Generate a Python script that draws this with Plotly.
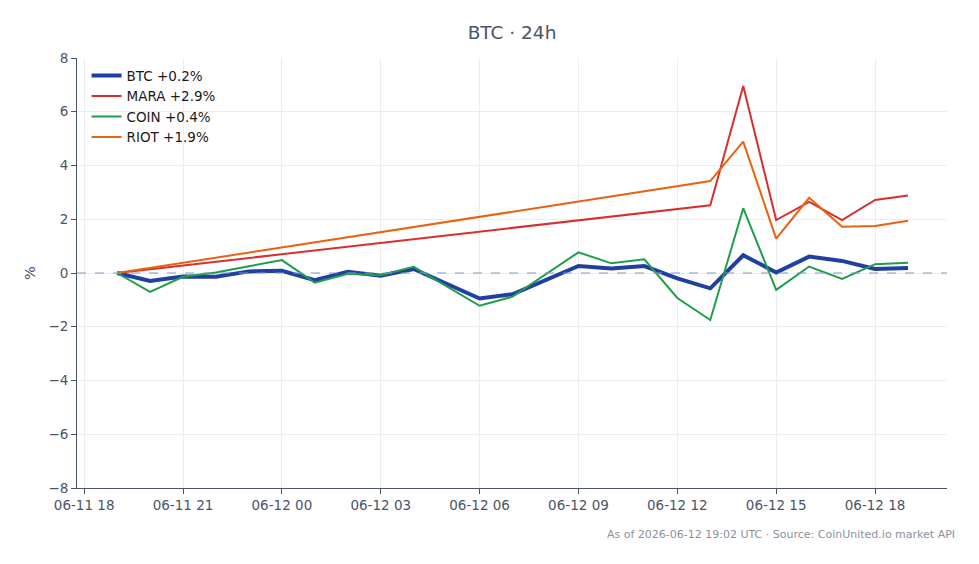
import plotly.graph_objects as go

# Times (UTC)
t_crypto = ["2026-06-11 19:00", "2026-06-11 20:00", "2026-06-11 21:00", "2026-06-11 22:00",
            "2026-06-11 23:00", "2026-06-12 00:00", "2026-06-12 01:00", "2026-06-12 02:00",
            "2026-06-12 03:00", "2026-06-12 04:00", "2026-06-12 06:00", "2026-06-12 07:00",
            "2026-06-12 09:00", "2026-06-12 10:00", "2026-06-12 11:00", "2026-06-12 12:00",
            "2026-06-12 13:00", "2026-06-12 14:00", "2026-06-12 15:00", "2026-06-12 16:00",
            "2026-06-12 17:00", "2026-06-12 18:00", "2026-06-12 19:00"]
btc = [0.0, -0.30, -0.13, -0.14, 0.06, 0.08, -0.27, 0.05, -0.10, 0.15, -0.95, -0.79,
       0.26, 0.17, 0.26, -0.20, -0.57, 0.66, 0.02, 0.61, 0.45, 0.15, 0.19]
coin = [0.0, -0.70, -0.14, 0.02, 0.25, 0.48, -0.36, -0.03, -0.08, 0.23, -1.22, -0.88,
        0.77, 0.36, 0.51, -0.93, -1.75, 2.41, -0.63, 0.24, -0.22, 0.33, 0.38]

t_stock = ["2026-06-11 19:00", "2026-06-12 13:00", "2026-06-12 14:00", "2026-06-12 15:00",
           "2026-06-12 16:00", "2026-06-12 17:00", "2026-06-12 18:00", "2026-06-12 19:00"]
mara = [0.0, 2.52, 6.96, 1.97, 2.65, 1.97, 2.72, 2.88]
riot = [0.0, 3.42, 4.89, 1.28, 2.80, 1.72, 1.75, 1.94]

font_family = "DejaVu Sans"
text_color = "#4a5568"

fig = go.Figure()
fig.add_trace(go.Scatter(x=t_crypto, y=btc, mode="lines", name="BTC +0.2%",
                         line=dict(color="#1f3fa3", width=4)))
fig.add_trace(go.Scatter(x=t_stock, y=mara, mode="lines", name="MARA +2.9%",
                         line=dict(color="#d62f2f", width=2)))
fig.add_trace(go.Scatter(x=t_crypto, y=coin, mode="lines", name="COIN +0.4%",
                         line=dict(color="#1e9e4a", width=2)))
fig.add_trace(go.Scatter(x=t_stock, y=riot, mode="lines", name="RIOT +1.9%",
                         line=dict(color="#e8620f", width=2)))

fig.add_hline(y=0, line=dict(color="#8298c4", width=1, dash="dash"))

fig.update_layout(
    width=979, height=564,
    margin=dict(l=77, r=32, t=58, b=76),
    paper_bgcolor="white", plot_bgcolor="white",
    font=dict(family=font_family, size=13.5, color=text_color),
    title=dict(text="BTC · 24h", x=0.5, xref="paper", y=0.943, yref="container",
               xanchor="center", yanchor="middle",
               font=dict(size=18.5, color=text_color)),
    showlegend=True,
    legend=dict(x=0.011, y=0.995, xanchor="left", yanchor="top",
                bgcolor="rgba(255,255,255,0)", font=dict(size=13.5, color="#1a1a1a")),
    xaxis=dict(range=["2026-06-11 17:47", "2026-06-12 20:11"],
               tickformat="%m-%d %H", dtick=3 * 3600 * 1000,
               tick0="2026-06-11 18:00",
               showgrid=True, gridcolor="#ececf2", zeroline=False,
               showline=True, linecolor=text_color, linewidth=1,
               ticks="outside", ticklen=5, tickcolor=text_color,
               tickfont=dict(size=13.5, color=text_color)),
    yaxis=dict(range=[-8, 8], dtick=2, showgrid=True, gridcolor="#ececf2",
               zeroline=False, showline=True, linecolor=text_color, linewidth=1,
               ticks="outside", ticklen=5, tickcolor=text_color,
               title=dict(text="%", font=dict(size=14.5, color=text_color), standoff=9),
               tickfont=dict(size=13.5, color=text_color)),
    annotations=[dict(text="As of 2026-06-12 19:02 UTC · Source: CoinUnited.io market API",
                      xref="paper", yref="paper", x=1.011, y=-0.107,
                      xanchor="right", yanchor="middle", showarrow=False,
                      font=dict(size=11, color="#8a919c"))],
)

fig.write_html("out.html")
